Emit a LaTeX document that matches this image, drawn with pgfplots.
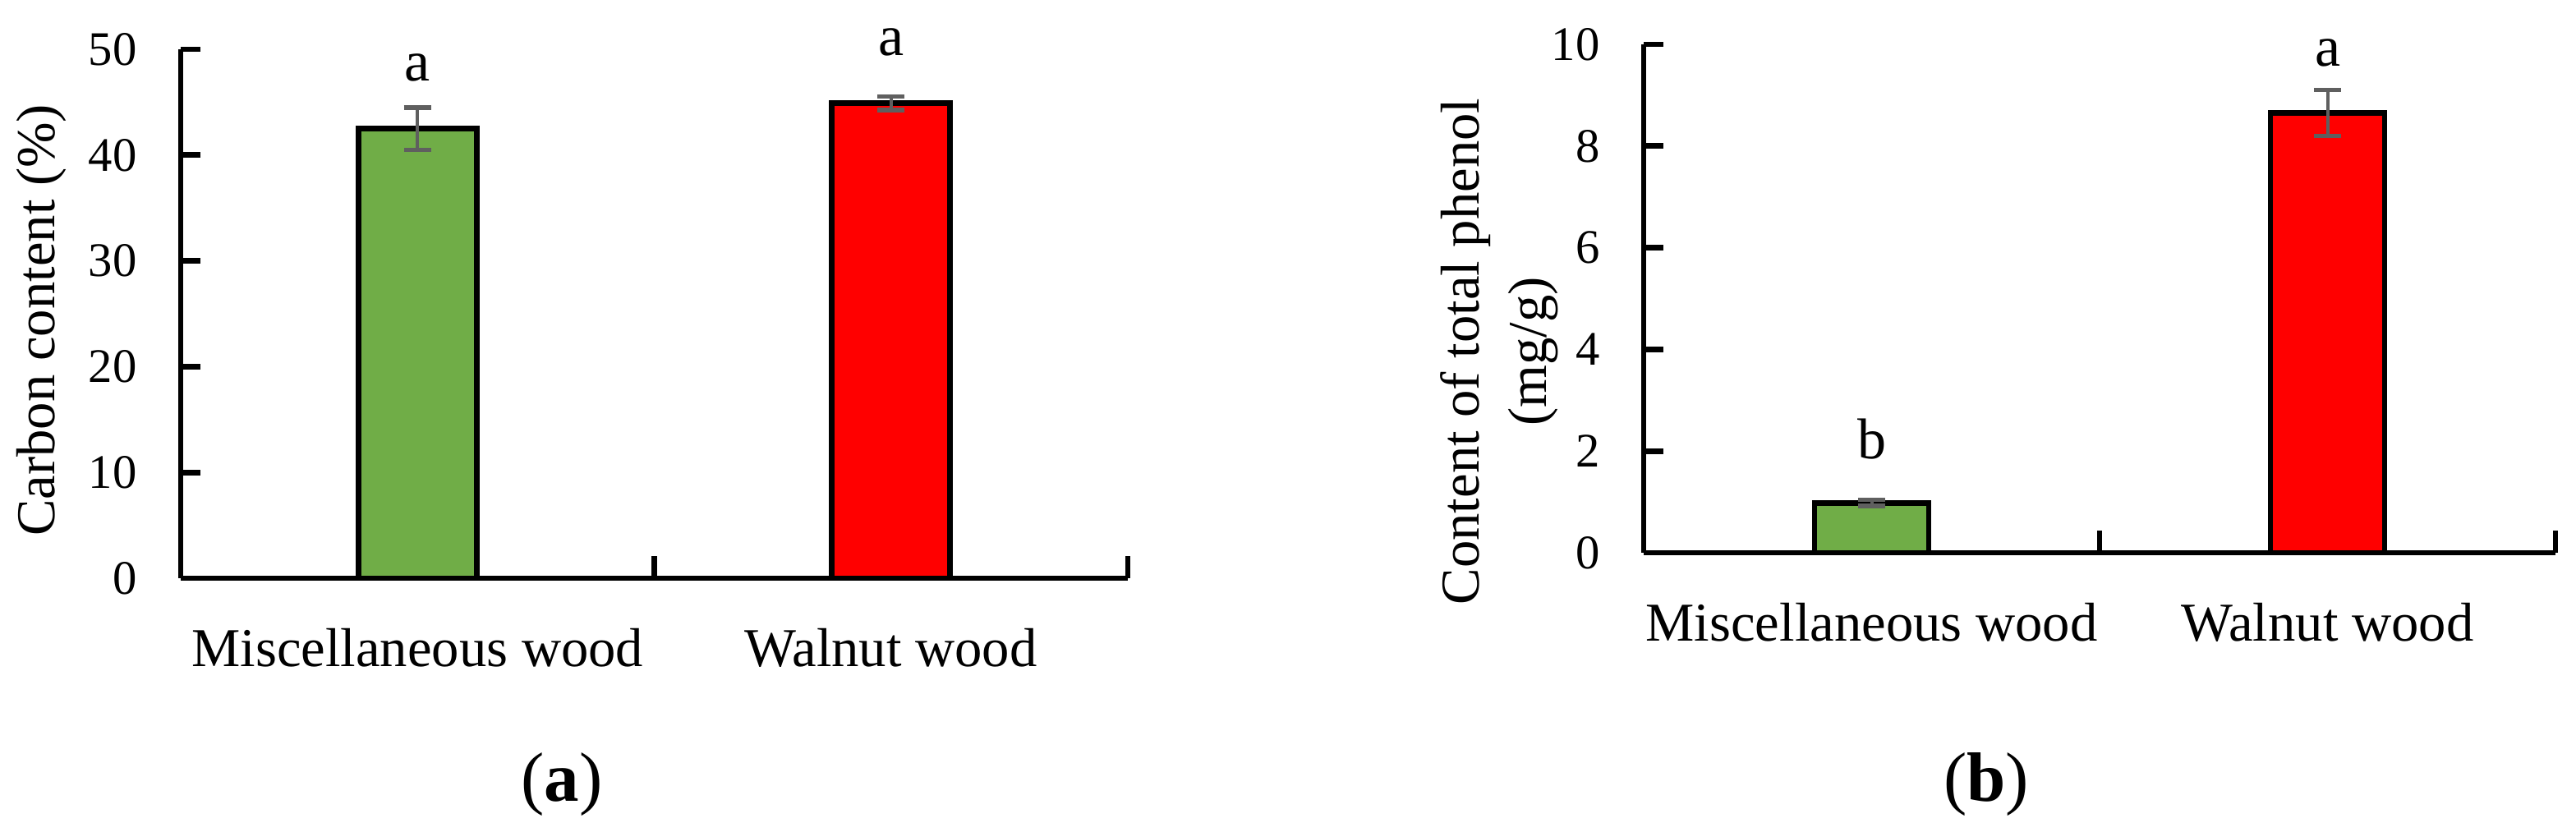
\documentclass[border=0pt]{standalone}
\usepackage{pgfplots}
\pgfplotsset{compat=1.18}
\usepackage{fontspec}
\setmainfont{Liberation Serif}

\definecolor{barGreen}{HTML}{70AD47}
\definecolor{barRed}{HTML}{FF0000}
\definecolor{errGray}{HTML}{5F5F5F}

\pgfplotsset{
  woodaxis/.style={
    scale only axis,
    anchor=south west,
    xmin=-0.5, xmax=1.5, ymin=0,
    xtick={0,1},
    xticklabels={Miscellaneous wood, Walnut wood},
    minor xtick={0.5,1.5},
    major x tick style={draw=none},
    minor x tick style={black, line width=1pt},
    minor tick length=4pt,
    major tick length=3.6pt,
    ytick style={black, line width=1pt},
    tick align=inside,
    axis x line*=bottom,
    axis y line*=left,
    axis line style={line width=1pt, -},
    clip=false,
    /pgf/number format/assume math mode=true,
    yticklabel style={font=\fontsize{8.8}{10}\selectfont, xshift=-4.5pt},
    xticklabel style={font=\fontsize{10}{12}\selectfont, yshift=-5.6pt},
    label style={font=\fontsize{10}{12.3}\selectfont},
  },
  woodbar/.style={
    ybar, bar shift=0pt, bar width=0.25,
    fill=#1, draw=black, line width=1pt,
    error bars/.cd, y dir=both, y explicit,
    error mark=|,
    error bar style={errGray, line width=0.6pt},
    error mark options={errGray, line width=0.8pt, mark size=2.5pt},
  },
}

\begin{document}
\begin{tikzpicture}
\useasboundingbox (0,0) rectangle (470.4pt,151.95pt);

% (a) carbon content
\begin{axis}[woodaxis,
  at={(33pt,46.35pt)}, width=172.95pt, height=96.6pt,
  ymax=50, ytick={0,10,20,30,40,50},
  ylabel={Carbon content (\%)},
  ylabel style={at={(rel axis cs:-0.147,0.488)}, anchor=center},
]
\addplot[woodbar=barGreen] coordinates {(0,42.5) +- (0,2.0)};
\addplot[woodbar=barRed] coordinates {(1,44.9) +- (0,0.65)};
\node[font=\fontsize{10.5}{12}\selectfont, inner sep=0pt] at (axis cs:0,48.25) {a};
\node[font=\fontsize{10.5}{12}\selectfont, inner sep=0pt] at (axis cs:1,50.7) {a};
\end{axis}

% (b) total phenol
\begin{axis}[woodaxis,
  at={(300.15pt,51pt)}, width=166.5pt, height=92.85pt,
  ymax=10, ytick={0,2,4,6,8,10},
  ylabel={Content of total phenol\\(mg/g)},
  ylabel style={at={(rel axis cs:-0.1586,0.396)}, anchor=center, align=center},
]
\addplot[woodbar=barGreen] coordinates {(0,0.98) +- (0,0.06)};
\addplot[woodbar=barRed] coordinates {(1,8.65) +- (0,0.45)};
\node[font=\fontsize{10.5}{12}\selectfont, inner sep=0pt] at (axis cs:0,2.24) {b};
\node[font=\fontsize{10.5}{12}\selectfont, inner sep=0pt] at (axis cs:1,9.83) {a};
\end{axis}

\node[font=\fontsize{12.75}{15}\selectfont, inner sep=0pt] at (102.6pt,8.7pt) {(\textbf{a})};
\node[font=\fontsize{12.75}{15}\selectfont, inner sep=0pt] at (362.7pt,8.7pt) {(\textbf{b})};
\end{tikzpicture}
\end{document}
